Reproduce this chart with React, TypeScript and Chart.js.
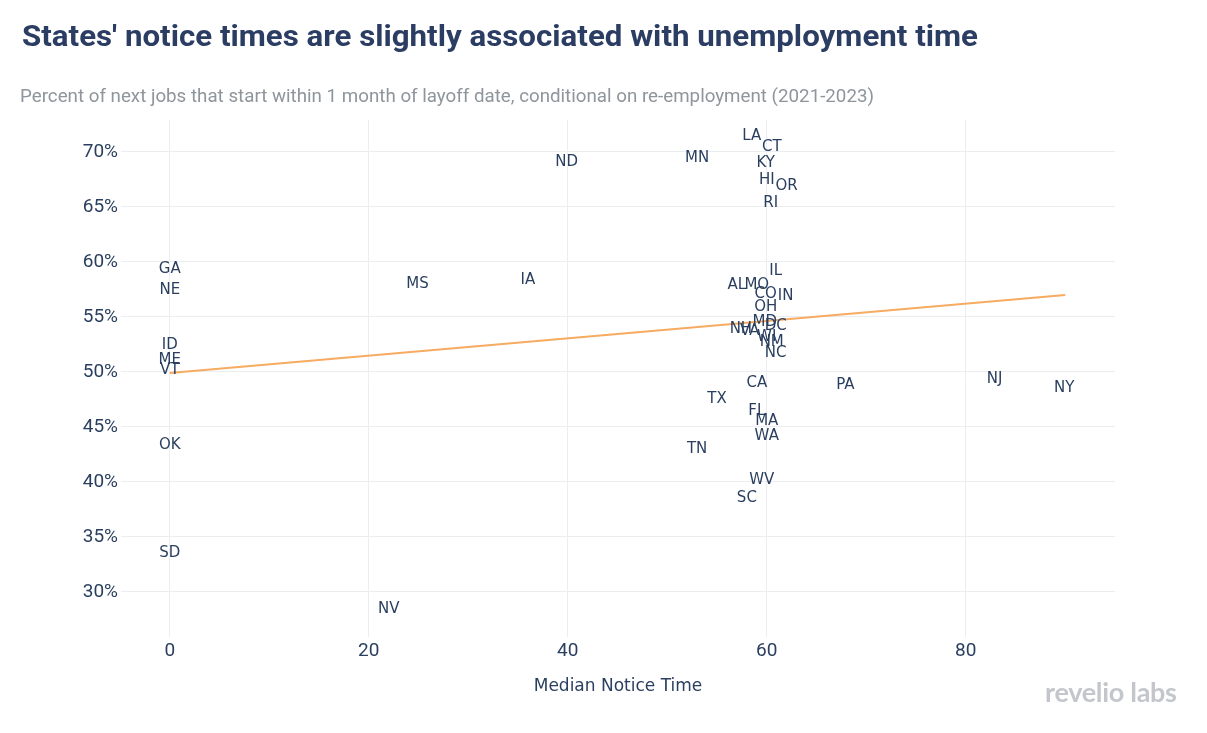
import React, { useEffect, useRef } from "react";
import { Chart, registerables } from "chart.js";

Chart.register(...registerables);

const states = ["LA","CT","MN","ND","KY","HI","OR","RI","GA","IL","NE","MS","IA","AL","MO","CO","IN","OH","MD","DC","NH","VA","WI","NM","NC","ID","ME","VT","CA","PA","NJ","NY","TX","FL","MA","WA","OK","TN","WV","SC","SD","NV"];
const noticeTime = [58.5,60.5,53.0,39.9,59.9,60.0,62.0,60.4,0,60.9,0,24.9,36.0,57.0,59.0,59.9,61.9,59.9,59.8,60.9,57.4,58.3,60.0,60.5,60.9,0,0,0,59.0,67.9,82.9,89.9,55.0,59.0,60.0,60.0,0,53.0,59.5,58.0,0,22.0];
const pctWithinMonth = [71.4,70.4,69.4,69.1,69.0,67.4,66.9,65.3,59.3,59.2,57.4,58.0,58.3,57.9,57.9,57.1,56.9,55.9,54.5,54.2,53.9,53.7,53.2,52.7,51.7,52.4,51.1,50.2,49.0,48.8,49.3,48.5,47.5,46.4,45.5,44.2,43.3,43.0,40.2,38.5,33.5,28.4];
const trendX = [0, 90];
const trendY = [49.9, 57.0];
const yTicks = [30, 35, 40, 45, 50, 55, 60, 65, 70];
const xTicks = [0, 20, 40, 60, 80];

const TITLE = "States' notice times are slightly associated with unemployment time";
const SUBTITLE = "Percent of next jobs that start within 1 month of layoff date, conditional on re-employment (2021-2023)";

const labelPlugin = {
  id: "stateLabels",
  afterDatasetsDraw(chart: any) {
    const meta = chart.getDatasetMeta(0);
    const ctx = chart.ctx;
    ctx.save();
    ctx.font = '15px "DejaVu Sans"';
    ctx.fillStyle = "#2a3f5f";
    ctx.textAlign = "center";
    ctx.textBaseline = "middle";
    meta.data.forEach((el: any, i: number) => {
      ctx.fillText(states[i], el.x, el.y);
    });
    ctx.restore();
  },
};

function fitScale(text: string, font: string, target: number) {
  const c = document.createElement("canvas").getContext("2d")!;
  c.font = font;
  const w = c.measureText(text).width;
  return w > 0 ? target / w : 1;
}

export default function App() {
  const canvasRef = useRef<HTMLCanvasElement>(null);
  const titleFont = '700 30px Roboto';
  const subFont = '400 18px Roboto';
  const tScale = fitScale(TITLE, titleFont, 956);
  const sScale = fitScale(SUBTITLE, subFont, 854);

  useEffect(() => {
    document.body.style.margin = "0";
    const chart = new Chart(canvasRef.current!, {
      type: "scatter",
      data: {
        datasets: [
          {
            label: "states",
            data: noticeTime.map((x, i) => ({ x, y: pctWithinMonth[i] })),
            pointRadius: 0,
            pointHoverRadius: 0,
          },
          {
            type: "line",
            label: "trend",
            data: trendX.map((x, i) => ({ x, y: trendY[i] })),
            borderColor: "#f7ab62",
            borderWidth: 2,
            pointRadius: 0,
            fill: false,
          } as any,
        ],
      },
      options: {
        animation: false,
        responsive: false,
        devicePixelRatio: 1,
        layout: { padding: { top: 120, right: 92, bottom: 0, left: 0 } },
        plugins: {
          legend: { display: false },
          tooltip: { enabled: false },
        },
        scales: {
          x: {
            type: "linear",
            min: -4.9,
            max: 95,
            afterFit: (s: any) => { s.height = 96; },
            afterBuildTicks: (s: any) => { s.ticks = xTicks.map((v) => ({ value: v })); },
            grid: { color: "#ebedf0", drawTicks: false },
            border: { display: false },
            ticks: { color: "#2a3f5f", font: { family: "Roboto", size: 19 }, padding: 3 },
            title: {
              display: true,
              text: "Median Notice Time",
              color: "#2a3f5f",
              font: { family: "DejaVu Sans", size: 17 },
              padding: { top: 0, bottom: 36 },
            },
          },
          y: {
            type: "linear",
            min: 25.9,
            max: 72.9,
            afterFit: (s: any) => { s.width = 121; },
            afterBuildTicks: (s: any) => { s.ticks = yTicks.map((v) => ({ value: v })); },
            grid: { color: "#ebedf0", drawTicks: false },
            border: { display: false },
            ticks: {
              color: "#2a3f5f",
              font: { family: "Roboto", size: 19 },
              padding: 3,
              callback: (v: any) => v + "%",
            },
          },
        },
      },
      plugins: [labelPlugin],
    });
    return () => chart.destroy();
  }, []);

  return (
    <div style={{ position: "relative", width: 1207, height: 733, background: "#fff", overflow: "hidden" }}>
      <canvas ref={canvasRef} width={1207} height={733} style={{ position: "absolute", left: 0, top: 0 }} />
      <div
        style={{
          position: "absolute", left: 22, top: 16, font: titleFont, color: "#2b3d63",
          whiteSpace: "nowrap", transform: `scaleX(${tScale})`, transformOrigin: "left top", lineHeight: "40px",
        }}
      >
        {TITLE}
      </div>
      <div
        style={{
          position: "absolute", left: 20, top: 84, font: subFont, color: "#8e959b",
          whiteSpace: "nowrap", transform: `scaleX(${sScale})`, transformOrigin: "left top", lineHeight: "24px",
        }}
      >
        {SUBTITLE}
      </div>
      <div
        style={{
          position: "absolute", left: 1045, top: 676, fontFamily: "Lato", fontWeight: 700, fontSize: 27,
          color: "#c3c7cc", whiteSpace: "nowrap", letterSpacing: "-0.3px", lineHeight: "32px",
        }}
      >
        revelio labs
      </div>
    </div>
  );
}
